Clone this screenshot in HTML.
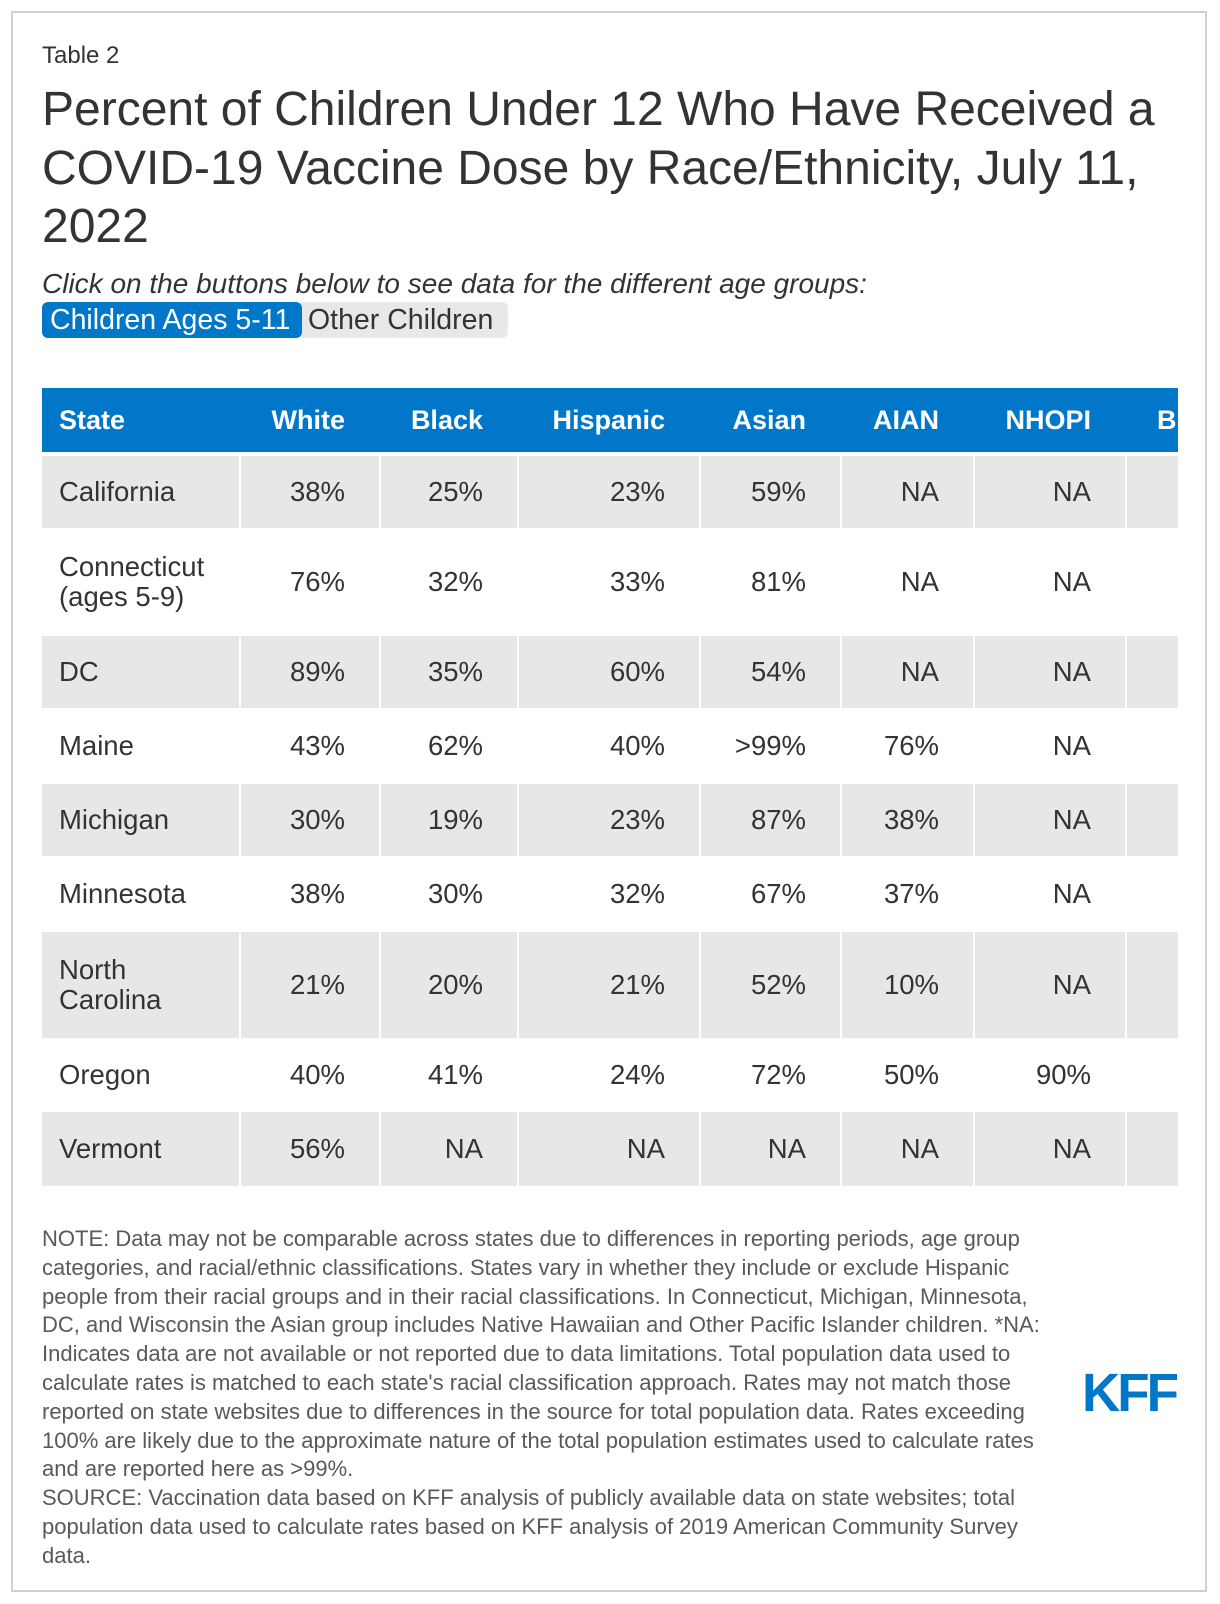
<!DOCTYPE html>
<html><head><meta charset="utf-8">
<style>
html,body{margin:0;padding:0;background:#fff;}
body{width:1220px;height:1604px;position:relative;overflow:hidden;font-family:"Liberation Sans",Arial,sans-serif;color:#333;}
#frame{position:absolute;left:11px;top:11px;width:1196px;height:1581px;border:2px solid #d0d0d0;box-sizing:border-box;}
.abs{position:absolute;white-space:nowrap;}
#label{left:42px;top:42px;font-size:24px;color:#333;}
#title{left:42px;top:81px;font-size:48px;line-height:58.5px;color:#333;}
#sub{left:42px;top:268px;font-size:28px;font-style:italic;color:#333;}
.btn{position:absolute;top:302px;height:36px;font-size:28.5px;line-height:36px;box-sizing:border-box;padding-left:8px;}
#b1{left:42px;width:260px;background:#0077c8;color:#fff;border-radius:6px;}
#b2{left:300px;width:208px;background:#e8e8e8;color:#333;border-radius:0 6px 6px 0;}
#tbl{position:absolute;left:42px;top:388px;width:1136px;height:800px;overflow:hidden;}
.hdr{position:absolute;left:0;top:0;width:1136px;height:64px;background:#0077c8;}
.cell{position:absolute;box-sizing:border-box;font-size:27.5px;color:#333;display:flex;align-items:center;}
.hcell{position:absolute;top:0;height:64px;box-sizing:border-box;font-size:27px;font-weight:bold;color:#fff;display:flex;align-items:center;white-space:nowrap;}
#notes{left:42px;top:1225px;font-size:22px;line-height:28.8px;color:#595959;}
#logo{left:1082px;top:1362px;font-size:54px;font-weight:bold;color:#0077c8;letter-spacing:-3px;transform:scaleX(0.98);transform-origin:left;}
</style></head>
<body>
<div id="frame"></div>
<div id="label" class="abs">Table 2</div>
<div id="title" class="abs">Percent of Children Under 12 Who Have Received a<br>COVID-19 Vaccine Dose by Race/Ethnicity, July 11,<br>2022</div>
<div id="sub" class="abs">Click on the buttons below to see data for the different age groups:</div>
<div id="b2" class="btn">Other Children</div>
<div id="b1" class="btn">Children Ages 5-11</div>
<div id="tbl">
<div class="hdr"></div>
</div>
<div id="notes" class="abs">NOTE: Data may not be comparable across states due to differences in reporting periods, age group<br>categories, and racial/ethnic classifications. States vary in whether they include or exclude Hispanic<br>people from their racial groups and in their racial classifications. In Connecticut, Michigan, Minnesota,<br>DC, and Wisconsin the Asian group includes Native Hawaiian and Other Pacific Islander children. *NA:<br>Indicates data are not available or not reported due to data limitations. Total population data used to<br>calculate rates is matched to each state's racial classification approach. Rates may not match those<br>reported on state websites due to differences in the source for total population data. Rates exceeding<br>100% are likely due to the approximate nature of the total population estimates used to calculate rates<br>and are reported here as &gt;99%.<br>SOURCE: Vaccination data based on KFF analysis of publicly available data on state websites; total<br>population data used to calculate rates based on KFF analysis of 2019 American Community Survey<br>data.</div>
<div id="logo" class="abs">KFF</div>
<script>
const columns=["State","White","Black","Hispanic","Asian","AIAN","NHOPI","Biracial"];
const states=["California","Connecticut<br>(ages 5-9)","DC","Maine","Michigan","Minnesota","North<br>Carolina","Oregon","Vermont"];
const white=["38%","76%","89%","43%","30%","38%","21%","40%","56%"];
const black=["25%","32%","35%","62%","19%","30%","20%","41%","NA"];
const hispanic=["23%","33%","60%","40%","23%","32%","21%","24%","NA"];
const asian=["59%","81%","54%",">99%","87%","67%","52%","72%","NA"];
const aian=["NA","NA","NA","76%","38%","37%","10%","50%","NA"];
const nhopi=["NA","NA","NA","NA","NA","NA","NA","90%","NA"];
const last=["","","","","","","","",""];

const colX=[0,197,337,475,657,798,931,1083,1300];
const rowTop=[68,142,248,322,396,470,544,652,724];
const rowH=[72,104,72,72,72,72,106,70,74];
const series=[states,white,black,hispanic,asian,aian,nhopi,last];
const tbl=document.getElementById('tbl');
columns.forEach((c,j)=>{
  const h=document.createElement('div');
  h.className='hcell';
  
  
  h.style.left=colX[j]+'px';
  h.style.width=(colX[j+1]-colX[j])+'px';
  if(j===0){h.style.paddingLeft='17px';}
  else if(j===7){h.style.paddingLeft='32px';}
  else {h.style.justifyContent='flex-end';h.style.paddingRight='34px';}
  h.textContent=c;
  tbl.appendChild(h);
});
states.forEach((s,i)=>{
  const gray=(i%2===0);
  series.forEach((arr,j)=>{
    const d=document.createElement('div');
    d.className='cell';
    
    
    const x0=colX[j]+(j===0?0:2);
    d.style.left=x0+'px';
    d.style.width=(colX[j+1]-x0)+'px';
    d.style.top=rowTop[i]+'px';
    d.style.height=rowH[i]+'px';
    d.style.background=gray?'#e7e7e7':'#fff';
    d.style.lineHeight='30px';
    if(j===0){d.style.paddingLeft='17px';}
    else {d.style.justifyContent='flex-end';d.style.paddingRight='34px';}
    d.innerHTML=arr[i];
    tbl.appendChild(d);
  });
});
</script>
</body></html>
